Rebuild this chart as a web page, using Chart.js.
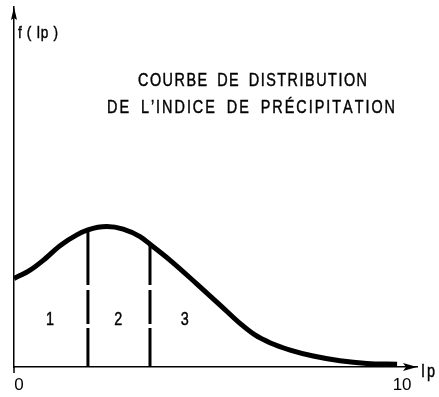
<!DOCTYPE html>
<html>
<head>
<meta charset="utf-8">
<script src="https://cdn.jsdelivr.net/npm/chart.js@4"></script>
<style>
html,body{margin:0;padding:0;background:#fff;}
#wrap{width:439px;height:397px;position:relative;}
canvas{display:block;}
</style>
</head>
<body>
<div id="wrap"><canvas id="c" width="439" height="397"></canvas></div>
<script>
// ---- data ----
const curveX = [0, 0.42, 0.77, 1.20, 1.64, 1.93, 2.42, 2.85, 3.29, 3.55, 4.07, 4.77, 5.38, 5.90, 6.29, 6.68, 7.21, 7.81, 8.51, 9.21, 10];
const curveF = [24.6, 26.9, 29.7, 33.7, 36.7, 38.1, 39.0, 38.3, 36.2, 34.1, 29.7, 23.1, 17.2, 12.1, 8.9, 6.75, 4.7, 3.05, 1.75, 1.0, 0.75];
const dividerX = [1.93, 3.55];
const dividerTop = [38.1, 34.1];
const regionLabels = ['1', '2', '3'];
const regionX = [0.94, 2.72, 4.46];
const regionF = [13.6, 13.6, 13.6];
const xTickValues = [0, 10];
const xTickLabels = ['0', '10'];
const titleLines = ['COURBE DE DISTRIBUTION', 'DE L’INDICE DE PRÉCIPITATION'];
const yAxisTitle = 'f ( Ip )';
const xAxisTitle = 'Ip';

const FONT = '"Liberation Sans", Arial, sans-serif';

function paintChar(ctx, c) {
  ctx.fillText(c, 0, 0);
  ctx.lineWidth = 0.45;
  ctx.strokeText(c, 0, 0);
}

// draw condensed text, letter by letter, spread to a given width
function drawSpaced(ctx, text, left, baseline, size, sx, width, wordW) {
  ctx.save();
  ctx.font = size + 'px ' + FONT;
  ctx.textAlign = 'left';
  ctx.textBaseline = 'alphabetic';
  const chars = [...text];
  const adv = chars.map(c => ctx.measureText(c).width * sx);
  const total = adv.reduce((a, b) => a + b, 0);
  let units = 0;
  for (let i = 1; i < chars.length; i++) units += 1 + (chars[i - 1] === ' ' ? wordW : 0);
  const unit = units > 0 ? (width - total) / units : 0;
  let x = left;
  chars.forEach((c, i) => {
    if (i > 0) x += unit * (1 + (chars[i - 1] === ' ' ? wordW : 0));
    ctx.save();
    ctx.translate(x, baseline);
    ctx.scale(sx, 1);
    paintChar(ctx, c);
    ctx.restore();
    x += adv[i];
  });
  ctx.restore();
}

function drawCentered(ctx, text, cx, baseline, size, sx) {
  ctx.save();
  ctx.font = size + 'px ' + FONT;
  ctx.textAlign = 'center';
  ctx.textBaseline = 'alphabetic';
  ctx.translate(cx, baseline);
  ctx.scale(sx, 1);
  paintChar(ctx, text);
  ctx.restore();
}

const decorPlugin = {
  id: 'decor',
  afterDraw(chart) {
    const ctx = chart.ctx;
    const xs = chart.scales.x, ys = chart.scales.y;
    const ca = chart.chartArea;
    ctx.save();
    ctx.fillStyle = '#000';
    ctx.strokeStyle = '#000';
    // y axis extension below x axis
    ctx.lineWidth = 1.5;
    ctx.beginPath();
    ctx.moveTo(ca.left, ca.bottom);
    ctx.lineTo(ca.left, ca.bottom + 6);
    ctx.stroke();
    // y arrow
    ctx.beginPath();
    ctx.moveTo(ca.left, ca.top);
    ctx.lineTo(ca.left - 3, ca.top + 13);
    ctx.lineTo(ca.left, ca.top + 11);
    ctx.lineTo(ca.left + 3, ca.top + 13);
    ctx.closePath();
    ctx.fill();
    // x arrow
    ctx.beginPath();
    ctx.moveTo(ca.right, ca.bottom);
    ctx.lineTo(ca.right - 14, ca.bottom - 4);
    ctx.lineTo(ca.right - 11, ca.bottom);
    ctx.lineTo(ca.right - 14, ca.bottom + 4);
    ctx.closePath();
    ctx.fill();
    // titles
    drawSpaced(ctx, titleLines[0], 138, 86, 18, 0.8, 229, 2);
    drawSpaced(ctx, titleLines[1], 107, 113, 18, 0.8, 288, 2);
    // axis titles
    drawSpaced(ctx, yAxisTitle, ca.left + 4, 38, 17, 0.8, 40, 0);
    drawSpaced(ctx, xAxisTitle, ca.right + 4, ca.bottom + 10, 18, 0.8, 14, 0);
    // region labels
    regionLabels.forEach((t, i) => {
      drawCentered(ctx, t, xs.getPixelForValue(regionX[i]), ys.getPixelForValue(regionF[i]) + 6.5, 18, 0.8);
    });
    ctx.restore();
  }
};

const datasets = [{
  data: curveX.map((x, i) => ({x, y: curveF[i]})),
  borderColor: '#000',
  borderWidth: 5,
  cubicInterpolationMode: 'monotone',
  pointRadius: 0,
  fill: false,
  order: 0
}];
dividerX.forEach((x, i) => {
  datasets.push({
    data: [{x, y: 0}, {x, y: dividerTop[i]}],
    borderColor: '#000',
    borderWidth: 3,
    borderDash: [39, 4, 34, 5, 80, 10],
    pointRadius: 0,
    fill: false,
    order: 1
  });
});

new Chart(document.getElementById('c'), {
  type: 'line',
  data: {datasets},
  options: {
    responsive: false,
    devicePixelRatio: 1,
    animation: false,
    events: [],
    layout: {padding: {top: 7, right: 22, left: 0, bottom: 0}},
    plugins: {legend: {display: false}, tooltip: {enabled: false}, title: {display: false}},
    scales: {
      x: {
        type: 'linear',
        min: 0,
        max: 10.52,
        grid: {display: false, drawTicks: false, tickLength: 0},
        border: {display: true, color: '#000', width: 1.5},
        afterBuildTicks: (s) => { s.ticks = xTickValues.map(v => ({value: v})); },
        afterFit: (s) => { s.height = 30; },
        ticks: {
          autoSkip: false,
          maxRotation: 0,
          color: '#000',
          padding: 8,
          labelOffset: 5,
          font: {family: FONT, size: 17},
          callback: (v, i) => xTickLabels[i]
        }
      },
      y: {
        type: 'linear',
        min: 0,
        max: 100,
        grid: {display: false, drawTicks: false, tickLength: 0},
        border: {display: true, color: '#000', width: 1.5},
        ticks: {display: false},
        afterFit: (s) => { s.width = 14; }
      }
    }
  },
  plugins: [decorPlugin]
});
</script>
</body>
</html>
